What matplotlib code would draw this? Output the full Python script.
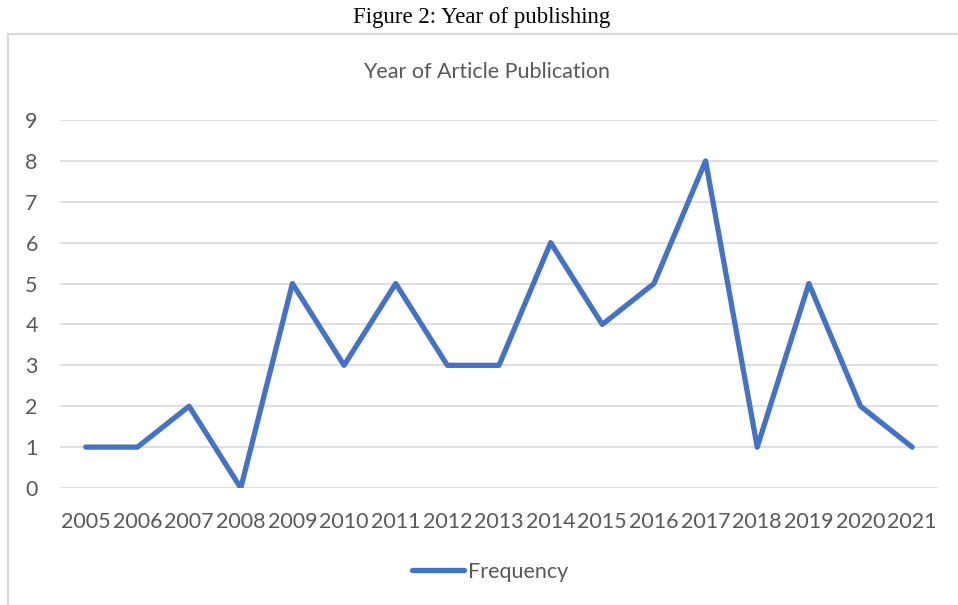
import matplotlib
matplotlib.use('Agg')
import matplotlib.pyplot as plt
from matplotlib.patches import Rectangle

# data
years = ['2005', '2006', '2007', '2008', '2009', '2010', '2011', '2012', '2013',
         '2014', '2015', '2016', '2017', '2018', '2019', '2020', '2021']
frequency = [1, 1, 2, 0, 5, 3, 5, 3, 3, 6, 4, 5, 8, 1, 5, 2, 1]
y_ticks = list(range(0, 10))

W, H = 958, 605
fig = plt.figure(figsize=(W / 100, H / 100), dpi=100)

# outer caption in serif
fig.text(482 / W, 1 - 18 / H, 'Figure 2: Year of publishing', ha='center', va='center',
         family='Liberation Serif', fontsize=16.5, color='black')

# chart border
fig.patches.append(Rectangle((8 / W, -0.05), 1.0, 1 - 34 / H + 0.05, transform=fig.transFigure,
                             fill=False, edgecolor='#D9D9D9', linewidth=1.5))

ax = fig.add_axes([60 / W, 1 - 488 / H, (938 - 60) / W, (488 - 120) / H])
x = list(range(len(years)))
ax.plot(x, frequency, color='#4472C4', linewidth=3.8, solid_joinstyle='round',
        solid_capstyle='round', label='Frequency')

ax.set_xlim(-0.5, len(years) - 0.5)
ax.set_ylim(0, 9)
ax.set_xticks(x)
ax.set_xticklabels(years)
ax.set_yticks(y_ticks)
ax.grid(axis='y', color='#D9D9D9', linewidth=1.2)
ax.set_axisbelow(True)
for s in ax.spines.values():
    s.set_visible(False)
ax.tick_params(axis='both', length=0, colors='#595959', labelsize=15.5)
ax.tick_params(axis='x', pad=17)
ax.tick_params(axis='y', pad=16)
for lbl in ax.get_xticklabels() + ax.get_yticklabels():
    lbl.set_family('Lato')

fig.text(487 / W, 1 - 72 / H, 'Year of Article Publication', ha='center', va='center',
         family='Lato', fontsize=15.5, color='#595959')

fig.legend(loc='center', bbox_to_anchor=(490 / W, 1 - 572 / H), frameon=False,
           prop={'family': 'Lato', 'size': 15.5}, labelcolor='#595959',
           handlelength=2.4, handletextpad=0.2)

fig.savefig('out.png', dpi=100)
